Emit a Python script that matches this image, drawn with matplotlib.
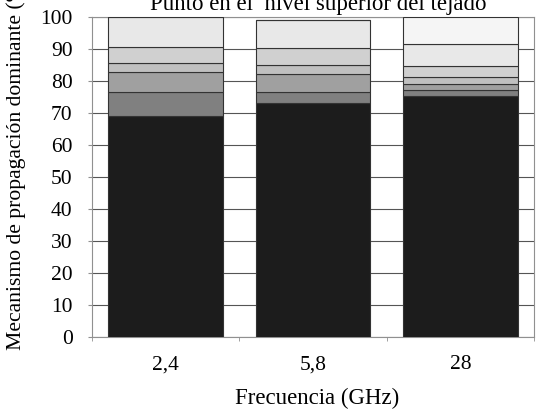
import matplotlib
matplotlib.use("Agg")
import matplotlib.pyplot as plt
import numpy as np

categories = ["2,4", "5,8", "28"]
# stacked segments from bottom to top (percent)
seg1 = [69.1, 73.0, 75.4]
seg2 = [7.6, 3.7, 1.8]
seg3 = [6.2, 5.4, 1.9]
seg4 = [2.6, 2.9, 2.0]
seg5 = [5.2, 5.2, 3.6]
seg6 = [9.3, 8.8, 6.8]
seg7 = [0.0, 0.0, 8.5]
series = [seg1, seg2, seg3, seg4, seg5, seg6, seg7]
colors = ["#1c1c1c", "#808080", "#a0a0a0", "#c0c0c0", "#d0d0d0", "#e8e8e8", "#f5f5f5"]
yticks = list(range(0, 101, 10))

plt.rcParams['font.family'] = ['Liberation Serif', 'DejaVu Serif']

fig = plt.figure(figsize=(5.36, 4.13), dpi=100)
ax = fig.add_axes([92/536, (413-337)/413, (534-92)/536, (337-17)/413])

x = np.arange(len(categories))
bottom = np.zeros(len(categories))
for vals, c in zip(series, colors):
    v = np.array(vals)
    ax.bar(x, v, bottom=bottom, width=0.78, color=c, edgecolor="#333333",
           linewidth=0.8, zorder=3)
    bottom += v

ax.set_xlim(-0.5, len(categories) - 0.5)
ax.set_ylim(0, 100)
ax.set_yticks(yticks)
ax.set_yticklabels([str(t) for t in yticks], fontsize=15.5)
ax.yaxis.grid(True, color="#555555", linewidth=0.8, zorder=0)
ax.set_axisbelow(True)

ax.set_xticks(x)
ax.set_xticklabels(categories, fontsize=15.5)
ax.tick_params(axis='x', length=0, pad=13)
ax.set_xticks(np.arange(-0.5, len(categories)), minor=True)
ax.tick_params(axis='x', which='minor', length=3, color="#909090")
ax.tick_params(axis='y', length=3, color="#909090", pad=11)

for s in ax.spines.values():
    s.set_color("#909090")
    s.set_linewidth(0.8)

fig.text(317/536, 1 - 398/413, "Frecuencia (GHz)", ha='center', va='center', fontsize=16.5)
fig.text(16/536, 1 - 163/413, "Mecanismo de propagación dominante (%)", rotation=90,
         ha='center', va='center', fontsize=15.6)
fig.text(318/536, 1 - 10/413, "Punto en el  nivel superior del tejado", ha='center',
         va='baseline', fontsize=16.5)

fig.savefig("out.png", dpi=100)
